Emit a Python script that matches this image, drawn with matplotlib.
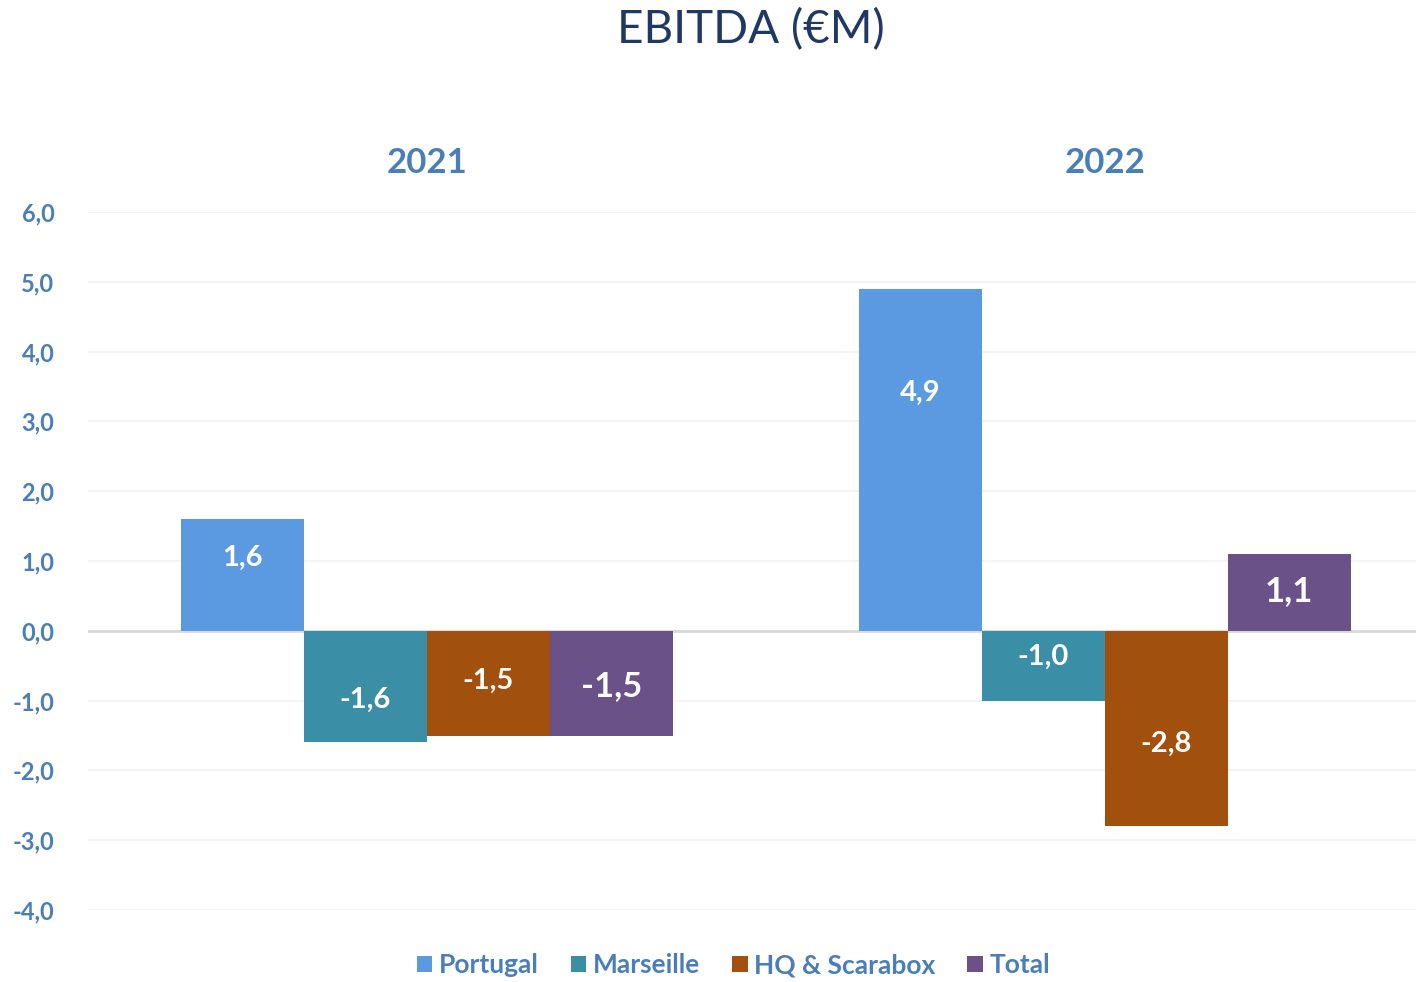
import matplotlib.pyplot as plt
import numpy as np

years = ["2021", "2022"]
segments = ["Portugal", "Marseille", "HQ & Scarabox", "Total"]
values = {
    "Portugal": [1.6, 4.9],
    "Marseille": [-1.6, -1.0],
    "HQ & Scarabox": [-1.5, -2.8],
    "Total": [-1.5, 1.1],
}
# where each value label sits (data units), as placed in the original
label_y = {
    "Portugal": [1.05, 3.41],
    "Marseille": [-0.99, -0.37],
    "HQ & Scarabox": [-0.72, -1.62],
    "Total": [-0.79, 0.57],
}
yticks = [6, 5, 4, 3, 2, 1, 0, -1, -2, -3, -4]

colors = {
    "Portugal": "#5B9AE0",
    "Marseille": "#3A8FA7",
    "HQ & Scarabox": "#A2500E",
    "Total": "#6A5188",
}
blue_txt = "#4A7EBB"

plt.rcParams["font.family"] = ["Lato", "DejaVu Sans"]

fig = plt.figure(figsize=(14.16, 9.82), dpi=100)
ax = fig.add_axes([0.062, 0.0733, 0.938, 0.7108])

x = np.arange(len(years))
w = 0.1814
for i, seg in enumerate(segments):
    xs = x + (i - 1.5) * w
    ax.bar(xs, values[seg], width=w, color=colors[seg], label=seg, zorder=3)
    big = seg == "Total"
    for xi, v, ly in zip(xs, values[seg], label_y[seg]):
        ax.text(xi, ly, f"{v:.1f}".replace(".", ","), ha="center", va="center",
                color="white", fontsize=25 if big else 21,
                fontweight="bold", zorder=4)

ax.set_ylim(-4, 6)
ax.set_xlim(-0.5, 1.459)
ax.set_yticks(yticks)
ax.set_yticklabels([f"{t:.1f}".replace(".", ",") for t in yticks],
                   fontweight="bold")
ax.tick_params(axis="y", length=0, pad=24, labelsize=17, labelcolor=blue_txt)

ax.set_xticks(x)
ax.set_xticklabels(years, fontweight="bold")
ax.xaxis.tick_top()
ax.tick_params(axis="x", length=0, pad=24, labelsize=25, labelcolor=blue_txt)

ax.grid(axis="y", color="#F2F2F2", linewidth=1.2, zorder=0)
ax.axhline(0, color="#D9D9D9", linewidth=2, zorder=2)
for s in ax.spines.values():
    s.set_visible(False)

fig.text(0.53, 0.97, "EBITDA (€M)", ha="center", va="center",
         fontsize=33, color="#1F3864")

leg = fig.legend(loc="center", bbox_to_anchor=(0.518, 0.017), ncol=4,
                 frameon=False, handlelength=0.6, handleheight=0.6,
                 handletextpad=0.25, columnspacing=1.2,
                 prop={"size": 19, "weight": "bold"})
for t in leg.get_texts():
    t.set_color(blue_txt)

fig.savefig("out.png", dpi=100)
